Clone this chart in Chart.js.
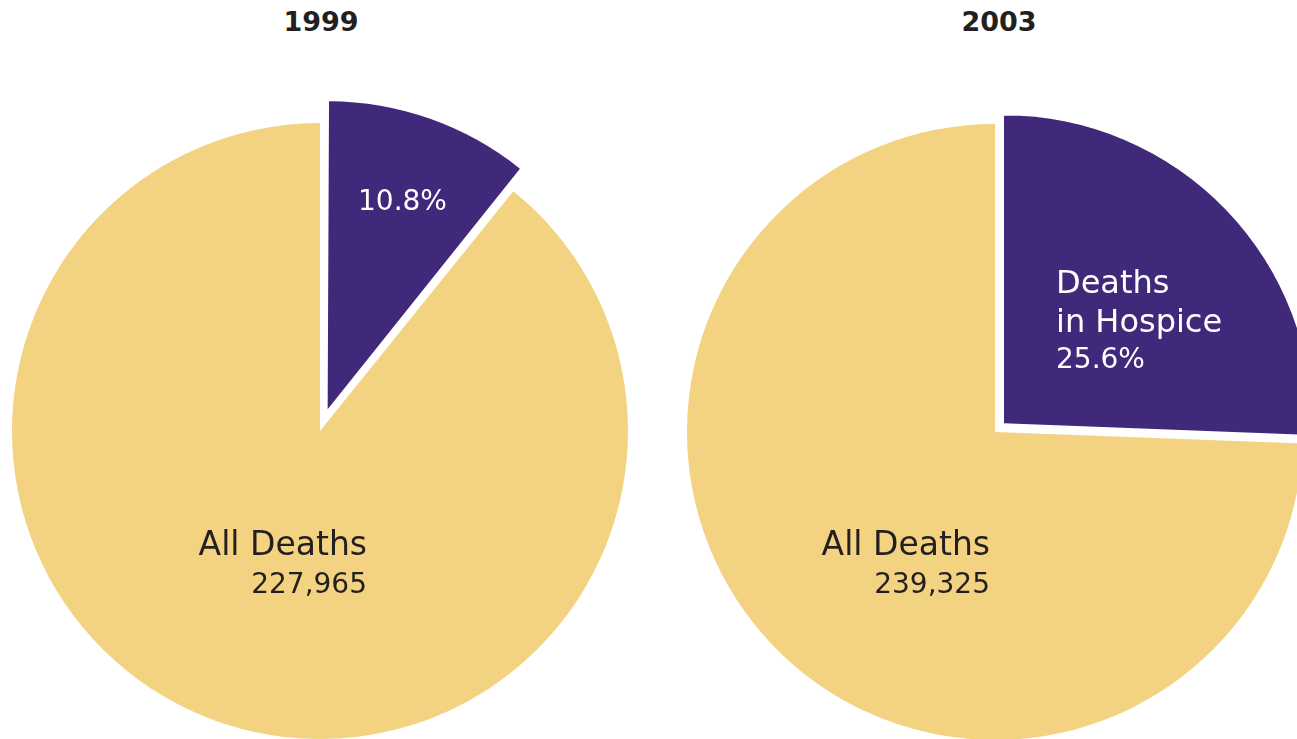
<!DOCTYPE html>
<html>
<head>
<meta charset="utf-8">
<script src="https://cdn.jsdelivr.net/npm/chart.js@4.4.0/dist/chart.umd.min.js"></script>
<style>
  html, body { margin: 0; padding: 0; background: #fff; }
  body { width: 1297px; height: 739px; overflow: hidden; position: relative; font-family: "DejaVu Sans", sans-serif; }
  canvas { position: absolute; }
  .year { position: absolute; top: 6px; width: 200px; text-align: center; font-weight: bold; font-size: 27px; color: #231f20; }
</style>
</head>
<body>
<div class="year" id="t0" style="left:221px"></div>
<div class="year" id="t1" style="left:899px"></div>
<canvas id="pie1999" width="700" height="700" style="left:-30px; top:81px"></canvas>
<canvas id="pie2003" width="700" height="700" style="left:645px; top:82px"></canvas>
<script>
const years = ['1999', '2003'];
const categories = ['Deaths in Hospice', 'All Deaths'];
const hospicePct = [10.8, 25.6];
const allDeaths = [227965, 239325];

const purple = '#40297a';
const yellow = '#f3d381';
const dark = '#231f20';

document.getElementById('t0').textContent = years[0];
document.getElementById('t1').textContent = years[1];

// chart.js v4 moves an arc by offset/4 and also grows its radius a bit;
// undo the growth so the exploded slice keeps the same radius
const keepRadius = {
    id: 'keepRadius',
    beforeDatasetsDraw(chart) {
        const meta = chart.getDatasetMeta(0);
        meta.data.forEach(arc => {
            const d = (arc.options.offset || 0) / 4;
            const fix = 1 - Math.sin(Math.min(Math.PI, arc.circumference));
            arc.outerRadius = meta.controller.outerRadius - d * fix;
        });
    }
};

// draws the texts inside the slices, relative to the pie centre
const sliceText = {
    id: 'sliceText',
    afterDatasetsDraw(chart, args, opts) {
        const ctx = chart.ctx;
        const arc = chart.getDatasetMeta(0).data[1];
        const cx = arc.x, cy = arc.y;
        ctx.save();
        opts.lines.forEach(l => {
            ctx.font = l.size + 'px "DejaVu Sans", sans-serif';
            ctx.fillStyle = l.color;
            ctx.textAlign = l.align;
            ctx.textBaseline = 'alphabetic';
            ctx.fillText(l.text, cx + l.dx, cy + l.dy);
        });
        ctx.restore();
    }
};

function makePie(id, i, offset, lines) {
    return new Chart(document.getElementById(id), {
        type: 'pie',
        data: {
            labels: categories,
            datasets: [{
                data: [hospicePct[i], 100 - hospicePct[i]],
                backgroundColor: [purple, yellow],
                borderWidth: 0,
                offset: [offset * 4, 0]
            }]
        },
        options: {
            responsive: false,
            animation: false,
            events: [],
            radius: 308,
            layout: { padding: 0 },
            plugins: {
                legend: { display: false },
                tooltip: { enabled: false },
                sliceText: { lines: lines }
            }
        },
        plugins: [keepRadius, sliceText]
    });
}

makePie('pie1999', 0, 23, [
    { text: hospicePct[0].toFixed(1) + '%', dx: 38, dy: -221, size: 28, color: '#fff', align: 'left' },
    { text: 'All Deaths', dx: 47, dy: 124, size: 33, color: dark, align: 'right' },
    { text: allDeaths[0].toLocaleString('en-US'), dx: 47, dy: 162, size: 28, color: dark, align: 'right' }
]);

makePie('pie2003', 1, 12.5, [
    { text: 'Deaths', dx: 61, dy: -139, size: 32, color: '#fff', align: 'left' },
    { text: 'in Hospice', dx: 61, dy: -100, size: 32, color: '#fff', align: 'left' },
    { text: hospicePct[1].toFixed(1) + '%', dx: 61, dy: -64, size: 28, color: '#fff', align: 'left' },
    { text: 'All Deaths', dx: -5, dy: 123, size: 33, color: dark, align: 'right' },
    { text: allDeaths[1].toLocaleString('en-US'), dx: -5, dy: 161, size: 28, color: dark, align: 'right' }
]);
</script>
</body>
</html>
